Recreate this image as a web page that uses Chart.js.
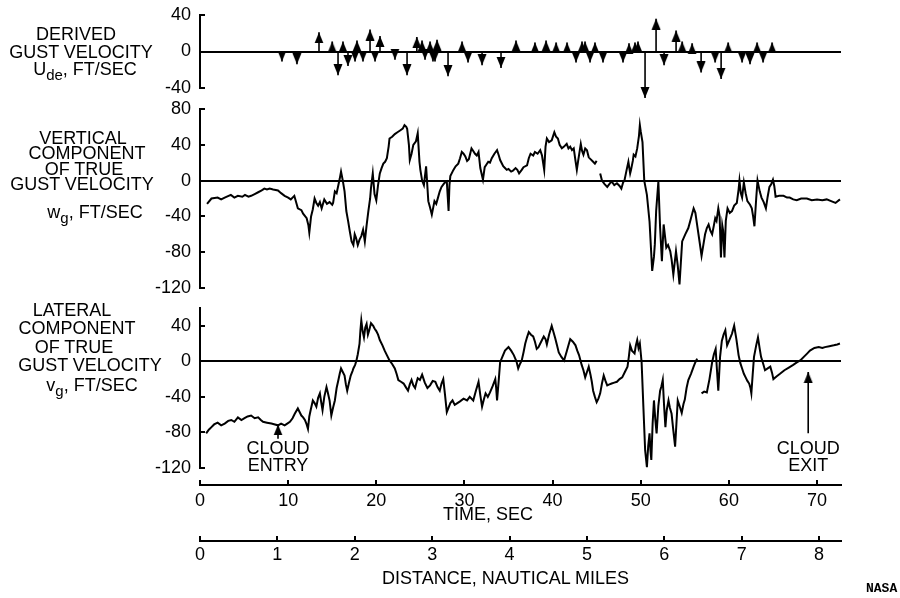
<!DOCTYPE html>
<html lang="en">
<head>
  <meta charset="UTF-8" />
  <title>Gust velocity time histories</title>
  <script src="https://cdn.jsdelivr.net/npm/chart.js"></script>
  <style>
    body { margin: 0; background: #fff; }
    #wrap {
      position: relative;
      width: 900px;
      height: 598px;
      font-family: 'Liberation Sans', Arial, sans-serif;
      color: #000;
    }
    #chart { position: absolute; left: 0; top: 0; }
    .txt {
      position: absolute;
      width: 240px;
      text-align: center;
      font-size: 18px;
      line-height: 18px;
      white-space: nowrap;
    }
    .txt sub { font-size: 15px; vertical-align: -5px; line-height: 0; }
    .mono { font-family: 'Liberation Mono', monospace; font-size: 13px; font-weight: bold; text-align: left; }
  </style>
</head>
<body>
  <div id="wrap">
    <canvas id="chart" width="900" height="598"></canvas>
  </div>

  <script>
    // derived gust velocity U_de : arrow time (sec) and value (ft/sec)
    const gustT = [9.3, 11.0, 13.5, 15.0, 15.66, 16.22, 16.79, 17.59, 17.81, 18.49, 19.29, 19.86, 20.42,
      22.12, 23.49, 24.6, 25.19, 25.53, 26.1, 26.43, 26.66, 26.89, 28.14, 29.73, 30.41, 32.0, 34.15,
      35.85, 38.0, 39.26, 40.4, 41.64, 42.66, 43.34, 43.68, 44.25, 44.81, 45.72, 47.99, 48.67, 49.35,
      49.69, 50.49, 51.74, 52.65, 54.01, 54.7, 55.83, 56.85, 58.44, 59.12, 59.92, 61.5, 62.4, 63.2,
      63.88, 64.9];
    const gustV = [-11, -14, 21, 11, -26, 11, -16, -11, 12, -11, 24, -11, 17,
      -9, -26, 16, 12, -9, 11, -11, -11, 13, -27, 11, -12, -15, -18,
      12, 10, 12, 10, 10, -12, 11, 11, -12, 10, -12, -12, 9, 10,
      11, -51, 36, -15, 23, 11, 9, -23, -12, -30, 10, -12, -14, 10,
      -12, 10];

    // vertical component of true gust velocity w_g : [time sec, ft/sec]
    const wgPoints = [
      [0.8,-26],[1.3,-20],[2.0,-19],[2.4,-21],[2.8,-19],[3.5,-16],[3.9,-19],[4.3,-17],[4.8,-18],[5.1,-16],
      [5.5,-18],[5.8,-17],[6.2,-15],[6.6,-13],[7.0,-11],[7.3,-9],[7.6,-10],[7.9,-9],[8.3,-10],[8.85,-11],
      [9.2,-14],[9.6,-17],[10.0,-19],[10.3,-21],[10.7,-17],[11.1,-31],[11.5,-33],[11.7,-37],[12.1,-42],[12.3,-50],
      [12.4,-58],[12.6,-40],[12.8,-32],[13.0,-20],[13.2,-25],[13.4,-28],[13.6,-24],[13.8,-31],[14.1,-21],[14.4,-26],
      [14.7,-24],[15.0,-27],[15.1,-25],[15.3,-12],[15.5,-14],[15.7,-5],[15.85,2],[16.0,10],[16.2,0],[16.4,-12],
      [16.6,-34],[16.8,-45],[17.0,-57],[17.2,-68],[17.4,-72],[17.55,-60],[17.7,-64],[17.9,-72],[18.1,-66],[18.3,-62],
      [18.5,-55],[18.7,-68],[18.9,-50],[19.1,-34],[19.3,-20],[19.4,-8],[19.6,8],[19.8,-15],[20.0,-22],[20.2,-5],
      [20.4,8],[20.6,14],[20.8,19],[21.0,21],[21.2,25],[21.4,38],[21.5,47],[21.8,49],[22.1,52],[22.4,54],
      [22.7,56],[23.0,58],[23.2,62],[23.4,60],[23.5,58],[23.7,40],[23.8,23],[24.0,30],[24.2,40],[24.5,44],
      [24.7,53],[24.9,21],[25.0,12],[25.2,0],[25.4,-5],[25.65,16],[25.9,-23],[26.1,-30],[26.3,-38],[26.5,-28],
      [26.6,-23],[26.8,-26],[27.0,-19],[27.2,-12],[27.4,-7],[27.7,-3],[28.0,-1],[28.2,-34],[28.3,-5],[28.4,5],
      [28.75,12],[29.0,16],[29.3,19],[29.5,25],[29.7,32],[29.9,30],[30.1,27],[30.3,22],[30.5,24],[30.8,36],
      [31.0,33],[31.2,30],[31.4,28],[31.6,32],[31.8,14],[32.1,1],[32.3,15],[32.5,18],[32.7,21],[32.9,20],
      [33.1,25],[33.4,30],[33.7,34],[33.9,28],[34.05,23],[34.4,16],[34.6,14],[34.8,12],[35.0,13],[35.3,10],
      [35.5,11],[35.8,14],[36.0,12],[36.2,8],[36.5,12],[36.7,15],[37.1,17],[37.3,25],[37.5,30],[37.8,28],
      [38.0,32],[38.3,30],[38.6,34],[38.8,28],[39.05,12],[39.2,38],[39.35,47],[39.6,43],[39.9,45],[40.2,54],
      [40.4,49],[40.6,47],[40.8,40],[41.05,36],[41.3,38],[41.6,41],[41.8,36],[42.0,38],[42.2,34],[42.4,36],
      [42.6,22],[42.75,12],[42.9,22],[43.2,41],[43.35,33],[43.5,29],[43.7,36],[43.9,34],[44.1,26],[44.3,24],
      [44.6,21],[44.8,19],[45.0,22],[45.2,null],[45.4,8],[45.6,0],[45.9,-4],[46.2,-7],[46.5,-3],[46.7,-1],
      [47.0,-5],[47.3,-3],[47.6,-6],[47.8,-9],[48.0,-2],[48.15,0],[48.4,12],[48.6,21],[48.8,8],[48.9,12],
      [49.1,22],[49.2,29],[49.4,27],[49.6,36],[49.8,50],[49.9,62],[50.0,55],[50.2,43],[50.4,0],[50.7,-16],
      [51.0,-46],[51.3,-101],[51.5,-85],[51.6,-71],[51.75,-34],[52.0,-1],[52.2,-53],[52.4,-90],[52.6,-49],[52.9,-75],
      [53.1,-72],[53.35,-79],[53.5,-88],[53.7,-105],[54.0,-79],[54.2,-95],[54.4,-116],[54.7,-68],[55.05,-60],[55.4,-53],
      [55.7,-42],[56.0,-31],[56.2,-36],[56.45,-53],[56.7,-70],[56.9,-84],[57.1,-72],[57.3,-60],[57.5,-53],[57.7,-49],
      [57.9,-56],[58.1,-60],[58.3,-50],[58.45,-42],[58.6,-45],[58.8,-31],[58.95,-40],[59.1,-86],[59.25,-50],[59.35,-56],
      [59.5,-86],[59.65,-45],[59.85,-31],[60.1,-36],[60.35,-34],[60.6,-28],[60.9,-25],[61.1,-10],[61.2,0],[61.35,-14],
      [61.5,-19],[61.7,-2],[61.9,-14],[62.1,-23],[62.4,-27],[62.6,-31],[62.75,-40],[62.9,-51],[63.1,-20],[63.25,0],
      [63.5,-12],[63.7,-19],[63.95,-24],[64.2,-31],[64.4,-18],[64.6,-7],[64.8,-4],[65.0,1],[65.15,-6],[65.3,-18],
      [65.7,-17],[66.2,-17],[66.6,-19],[66.9,-19],[67.3,-21],[67.7,-22],[68.2,-20],[68.85,-20],[69.4,-22],[70.0,-21],
      [70.6,-22],[71.1,-21],[71.6,-23],[72.1,-25],[72.6,-21]
    ];

    // lateral component of true gust velocity v_g : [time sec, ft/sec]
    const vgPoints = [
      [0.7,-81],[1.0,-77],[1.3,-74],[1.6,-71],[2.0,-69],[2.4,-72],[2.8,-70],[3.2,-67],[3.55,-66],[3.9,-68],
      [4.3,-63],[4.7,-66],[5.05,-64],[5.4,-62],[5.8,-61],[6.2,-64],[6.6,-63],[6.9,-66],[7.15,-68],[7.6,-69],
      [8.1,-70],[8.5,-71],[8.85,-72],[9.2,-70],[9.6,-72],[9.9,-70],[10.2,-68],[10.5,-64],[10.75,-59],[11.1,-53],
      [11.3,-57],[11.5,-61],[11.7,-63],[11.9,-66],[12.1,-71],[12.25,-76],[12.4,-62],[12.55,-55],[12.8,-44],[13.0,-47],
      [13.2,-51],[13.4,-41],[13.6,-36],[13.75,-46],[13.9,-55],[14.1,-40],[14.35,-29],[14.5,-35],[14.7,-44],[14.9,-61],
      [15.1,-52],[15.3,-44],[15.5,-30],[15.7,-21],[15.85,-14],[16.0,-8],[16.2,-12],[16.4,-16],[16.55,-26],[16.7,-33],
      [16.9,-24],[17.1,-16],[17.3,-11],[17.4,-8],[17.6,-4],[17.75,1],[17.9,8],[18.1,20],[18.2,35],[18.3,46],
      [18.45,34],[18.6,27],[18.75,38],[18.9,42],[19.05,30],[19.2,35],[19.4,43],[19.65,40],[19.8,37],[20.0,34],
      [20.2,30],[20.4,24],[20.7,18],[20.95,12],[21.2,7],[21.5,1],[21.8,-3],[22.1,-8],[22.3,-14],[22.5,-21],
      [22.8,-23],[23.1,-25],[23.35,-29],[23.6,-33],[23.8,-26],[24.0,-21],[24.2,-27],[24.4,-30],[24.55,-24],[24.7,-19],
      [24.95,-21],[25.2,-15],[25.5,-24],[25.8,-30],[26.1,-27],[26.4,-22],[26.7,-23],[26.95,-29],[27.2,-33],[27.4,-25],
      [27.6,-20],[27.8,-38],[28.0,-57],[28.2,-52],[28.4,-47],[28.65,-44],[28.9,-49],[29.2,-47],[29.5,-45],[29.9,-42],
      [30.3,-44],[30.6,-40],[31.0,-44],[31.3,-33],[31.6,-23],[31.8,-38],[32.0,-51],[32.2,-43],[32.4,-36],[32.65,-40],
      [32.9,-35],[33.2,-28],[33.5,-20],[33.6,-30],[33.7,-44],[33.9,-20],[34.05,-1],[34.3,5],[34.6,12],[35.0,16],
      [35.3,12],[35.6,7],[35.9,0],[36.1,-8],[36.3,-3],[36.5,1],[36.7,10],[36.9,20],[37.1,27],[37.3,33],
      [37.55,30],[37.8,28],[38.0,22],[38.2,14],[38.4,16],[38.6,20],[38.8,24],[39.0,28],[39.2,25],[39.35,19],
      [39.6,30],[39.9,40],[40.1,33],[40.3,26],[40.5,18],[40.7,10],[41.0,5],[41.3,1],[41.6,11],[41.8,18],
      [42.0,25],[42.3,22],[42.6,18],[42.8,12],[43.0,7],[43.3,-4],[43.5,-10],[43.7,-18],[43.9,-12],[44.1,-6],
      [44.3,-15],[44.45,-23],[44.6,-33],[44.8,-40],[45.0,-46],[45.2,-42],[45.4,-36],[45.6,-25],[45.8,-16],[46.0,-22],
      [46.2,-27],[46.45,-26],[46.7,-25],[47.0,-24],[47.3,-23],[47.6,-20],[47.9,-18],[48.2,-12],[48.5,-6],[48.65,5],
      [48.8,18],[49.0,12],[49.3,9],[49.45,18],[49.6,24],[49.75,15],[49.9,20],[50.1,-1],[50.3,-51],[50.5,-100],
      [50.7,-119],[50.85,-95],[51.0,-81],[51.1,-100],[51.2,-111],[51.35,-70],[51.5,-44],[51.65,-65],[51.8,-81],[52.0,-50],
      [52.2,-33],[52.35,-28],[52.5,-21],[52.65,-50],[52.8,-74],[52.95,-55],[53.15,-44],[53.3,-52],[53.5,-59],[53.7,-78],
      [53.9,-96],[54.05,-70],[54.2,-44],[54.4,-50],[54.65,-58],[54.85,-48],[55.0,-43],[55.2,-30],[55.4,-21],[55.7,-14],
      [56.0,-6],[56.2,-1],[56.4,3],[56.6,null],[56.9,-36],[57.2,-34],[57.5,-35],[57.8,-20],[58.1,-1],[58.3,8],
      [58.5,14],[58.65,-10],[58.8,-33],[59.0,5],[59.2,23],[59.4,30],[59.6,35],[59.8,18],[60.1,25],[60.35,31],
      [60.6,40],[60.85,25],[61.1,7],[61.3,-2],[61.5,-8],[61.7,-14],[61.9,-18],[62.1,-22],[62.3,-25],[62.45,-30],
      [62.55,-36],[62.7,-15],[62.85,5],[63.1,18],[63.3,27],[63.5,14],[63.65,5],[63.9,-3],[64.1,-10],[64.4,-8],
      [64.7,-6],[64.9,-13],[65.05,-20],[65.4,-17],[65.8,-14],[66.3,-10],[66.8,-7],[67.3,-4],[67.75,-1],[68.1,1],
      [68.5,5],[68.9,9],[69.2,12],[69.7,15],[70.2,16],[70.6,15],[70.9,16],[71.4,17],[71.9,18],[72.3,19],[72.6,20]
    ];

    // cloud entry / exit markers on the lateral trace
    const cloudT = [8.85, 69.0];
    const cloudFrom = [-87, -81];
    const cloudTip = [-71, -12];
    const cloudWords = [['CLOUD', 'ENTRY'], ['CLOUD', 'EXIT']];

    const timeMax = 72.72;      // sec at right end of the axes
    const distMax = 8.284;      // nautical miles at the same point
    const wgRange = [-120, 80];
    const vgRange = [-120, 60];

    // left-hand labels: [html, centre x, cap top]
    const sideText = [
      ['DERIVED', 76, 27], ['GUST VELOCITY', 81, 45], ['U<sub>de</sub>, FT/SEC', 85, 62],
      ['VERTICAL', 83, 131], ['COMPONENT', 87, 146.5], ['OF TRUE', 84, 162], ['GUST VELOCITY', 82, 177],
      ['w<sub>g</sub>, FT/SEC', 95, 205],
      ['LATERAL', 72, 303], ['COMPONENT', 77, 321.5], ['OF TRUE', 74, 340], ['GUST VELOCITY', 90, 358.5],
      ['v<sub>g</sub>, FT/SEC', 92, 378],
      ['TIME, SEC', 488, 507], ['DISTANCE, NAUTICAL MILES', 502, 571]
    ];

    const wrap = document.getElementById('wrap');
    sideText.forEach(([html, cx, cap]) => {
      const d = document.createElement('div');
      d.className = 'txt';
      d.innerHTML = html;
      d.style.left = (cx - 120) + 'px';
      d.style.top = (cap - 2.5) + 'px';
      wrap.appendChild(d);
    });
    const nasa = document.createElement('div');
    nasa.className = 'txt mono';
    nasa.textContent = 'NASA';
    nasa.style.left = '866px';
    nasa.style.top = '580px';
    wrap.appendChild(nasa);

    // arrow head with its tip in the middle of the image
    function makeHead() {
      const c = document.createElement('canvas');
      c.width = 10;
      c.height = 22;
      const g = c.getContext('2d');
      g.fillStyle = '#000';
      g.beginPath();
      g.moveTo(5, 11);
      g.lineTo(0.5, 22);
      g.lineTo(9.5, 22);
      g.closePath();
      g.fill();
      return c;
    }
    const head = makeHead();

    function stems(ts, from, to) {
      const out = [];
      ts.forEach((t, i) => {
        out.push({ x: t, y: from[i] }, { x: t, y: to[i] }, { x: t, y: null });
      });
      return out;
    }

    const cloudLabels = {
      id: 'cloudLabels',
      afterDatasetsDraw(chart) {
        const { ctx, scales } = chart;
        ctx.save();
        ctx.font = '18px "Liberation Sans", Arial, sans-serif';
        ctx.fillStyle = '#000';
        ctx.textAlign = 'center';
        cloudT.forEach((t, i) => {
          const x = scales.x.getPixelForValue(t);
          const y = scales.y3.getPixelForValue(-104);
          cloudWords[i].forEach((w, k) => ctx.fillText(w, x, y + k * 17.5));
        });
        ctx.restore();
      }
    };

    Chart.defaults.font.family = "'Liberation Sans', Arial, sans-serif";
    Chart.defaults.font.size = 18;
    Chart.defaults.color = '#000';

    const zeroOnly = c => (c.tick && c.tick.value === 0 ? '#000' : 'rgba(0,0,0,0)');
    // same width for every panel axis, and no extra room asked for the end labels
    const fixWidth = s => { s.width = 60; s.paddingTop = 0; s.paddingBottom = 0; };

    function panelAxis(min, max, weight, stackWeight) {
      return {
        type: 'linear', position: 'left', stack: 'panels', weight, stackWeight,
        min, max,
        border: { display: true, color: '#000', width: 2 },
        grid: { color: zeroOnly, lineWidth: 2, tickColor: '#000', tickWidth: 2, tickLength: -5 },
        ticks: { stepSize: 40, includeBounds: false, autoSkip: false, padding: 14 },
        afterFit: fixWidth
      };
    }
    function spacerAxis(weight, stackWeight) {
      return {
        type: 'linear', position: 'left', stack: 'panels', weight, stackWeight,
        min: 0, max: 1,
        border: { display: false },
        grid: { display: false },
        ticks: { display: false },
        afterFit: fixWidth
      };
    }

    new Chart(document.getElementById('chart'), {
      type: 'line',
      data: {
        datasets: [
          {
            data: wgPoints.map(([x, y]) => ({ x, y })),
            yAxisID: 'y2', borderColor: '#000', borderWidth: 2, pointRadius: 0, spanGaps: false
          },
          {
            data: vgPoints.map(([x, y]) => ({ x, y })),
            yAxisID: 'y3', borderColor: '#000', borderWidth: 2, pointRadius: 0, spanGaps: false
          },
          {
            data: stems(gustT, gustT.map(() => 0), gustV),
            yAxisID: 'y1', borderColor: '#000', borderWidth: 1.6, pointRadius: 0, spanGaps: false, clip: false
          },
          {
            data: gustT.map((t, i) => ({ x: t, y: gustV[i] })),
            yAxisID: 'y1', showLine: false, clip: false,
            pointStyle: head, pointRadius: 5, pointRotation: gustV.map(v => (v < 0 ? 180 : 0))
          },
          {
            data: stems(cloudT, cloudFrom, cloudTip),
            yAxisID: 'y3', borderColor: '#000', borderWidth: 1.6, pointRadius: 0, spanGaps: false
          },
          {
            data: cloudT.map((t, i) => ({ x: t, y: cloudTip[i] })),
            yAxisID: 'y3', showLine: false, pointStyle: head, pointRadius: 5
          }
        ]
      },
      options: {
        responsive: false,
        animation: false,
        events: [],
        layout: { autoPadding: false, padding: { left: 140, right: 59, top: 15, bottom: 27 } },
        plugins: { legend: { display: false }, tooltip: { enabled: false } },
        scales: {
          x: {
            type: 'linear', position: 'bottom', weight: 0,
            min: 0, max: timeMax,
            border: { display: true, color: '#000', width: 2 },
            grid: { drawOnChartArea: false, color: '#000', lineWidth: 2, tickLength: -5 },
            ticks: { stepSize: 10, includeBounds: false, autoSkip: false, padding: 10, maxRotation: 0 },
            afterFit: s => { s.height = 56; }
          },
          x2: {
            type: 'linear', position: 'bottom', weight: 1,
            min: 0, max: distMax,
            border: { display: true, color: '#000', width: 2 },
            grid: { drawOnChartArea: false, color: '#000', lineWidth: 2, tickLength: -5 },
            ticks: { stepSize: 1, includeBounds: false, autoSkip: false, padding: 8, maxRotation: 0 },
            afterFit: s => { s.height = 30; }
          },
          y1: panelAxis(-40, 40, 6, 73),
          s1: spacerAxis(5, 21),
          y2: panelAxis(wgRange[0], wgRange[1], 4, 179),
          s2: spacerAxis(3, 20),
          y3: panelAxis(vgRange[0], vgRange[1], 2, 160),
          s3: spacerAxis(1, 17)
        }
      },
      plugins: [cloudLabels]
    });
  </script>
</body>
</html>
